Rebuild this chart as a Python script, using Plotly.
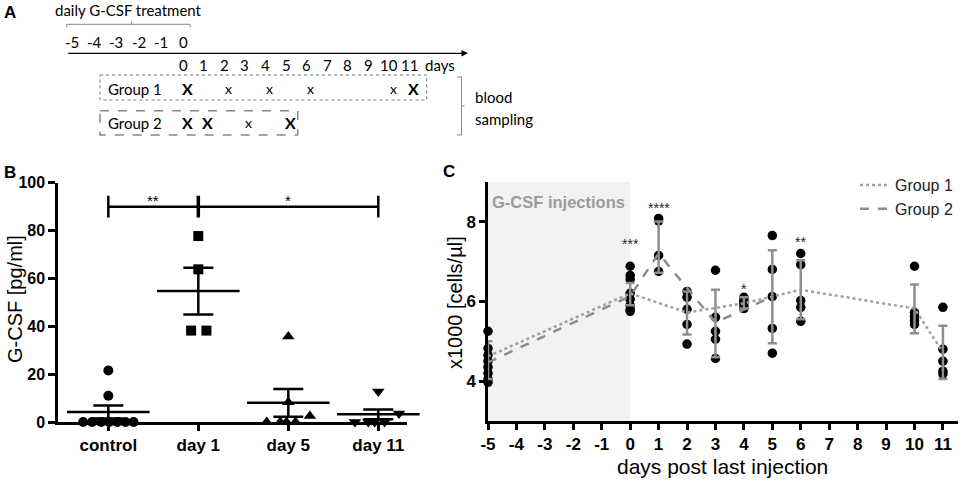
import plotly.graph_objects as go

# ---------------- panel A : study design timeline
a_pre_days = [-5, -4, -3, -2, -1, 0]
a_post_days = [0, 1, 2, 3, 4, 5, 6, 7, 8, 9, 10, 11]
a_group1_days = [0, 2, 4, 6, 10, 11]
a_group1_marks = ["X", "x", "x", "x", "x", "X"]
a_group2_days = [0, 1, 3, 5]
a_group2_marks = ["X", "X", "x", "X"]

# ---------------- panel B : serum G-CSF
b_groups = ["control", "day 1", "day 5", "day 11"]
b_values = [
    [21.5, 11.0, 0, 0, 0, 0, 0, 0, 0],
    [77.7, 63.8, 38.2, 38.2],
    [35.7, 8.3, 2.5, 0, 0, 0, 0],
    [12.7, 3.6, 0, 0, 0, 0],
]
b_spread = [
    [0.0, 0.0, -0.28, -0.18, -0.08, 0.01, 0.10, 0.19, 0.28],
    [0.0, 0.0, -0.08, 0.09],
    [0.0, 0.0, 0.24, -0.24, -0.09, -0.02, 0.08],
    [0.0, 0.23, -0.26, -0.11, -0.04, 0.07],
]
b_symbols = ["circle", "square", "triangle-up", "triangle-down"]
b_mean = [4.2, 54.7, 8.0, 3.2]
b_sem = [2.7, 9.8, 5.8, 2.0]
b_sig_from = [0, 1]
b_sig_to = [1, 3]
b_sig_text = ["**", "*"]
b_sig_level = 90

# ---------------- panel C : blood leukocytes
c_days = [-5, 0, 1, 2, 3, 4, 5, 6, 10, 11]
c_cells = [
    [5.25, 4.82, 4.65, 4.5, 4.35, 4.2, 4.05, 3.97],
    [6.88, 6.65, 6.55, 6.2, 6.05, 5.9, 5.8, 5.75],
    [8.08, 8.02, 7.15, 6.75],
    [6.25, 6.1, 5.8, 5.42, 4.93],
    [6.78, 5.6, 5.25, 5.05, 4.57],
    [6.1, 6.03, 5.97, 5.9, 5.82],
    [7.65, 6.8, 6.12, 5.32, 4.7],
    [7.2, 6.92, 6.02, 5.85, 5.5],
    [6.88, 5.72, 5.62, 5.52, 5.42],
    [5.85, 4.8, 4.5, 4.25, 4.18],
]
c_sd_hi = [5.0, 6.46, 8.0, 6.25, 6.29, 6.1, 7.28, 7.03, 6.42, 5.39]
c_sd_lo = [4.05, 5.9, 6.72, 5.17, 4.6, 5.82, 4.95, 5.55, 5.2, 4.05]
c_ticks = [-5, -4, -3, -2, -1, 0, 1, 2, 3, 4, 5, 6, 7, 8, 9, 10, 11]
g1_days = [-5, 0, 2, 4, 6, 10, 11]
g1_mean = [4.62, 6.2, 5.72, 5.95, 6.29, 5.82, 4.72]
g2_days = [-5, 0, 1, 3, 5]
g2_mean = [4.47, 6.13, 7.2, 5.47, 6.12]
c_star_days = [0, 1, 4, 6]
c_star_text = ["***", "****", "*", "**"]
c_star_level = [7.45, 8.35, 6.3, 7.5]

W, H = 962, 481
TICK_FONT = "Liberation Sans, Arial"
TEXT_FONT = "Liberation Sans, Arial"
A_FONT = "Lato, Open Sans"


def px(x):
    return x / W


def py(y):
    return 1 - y / H


def note(x, y, text, size, color="black", xanchor="center", angle=0, bold=False):
    return dict(x=px(x), y=py(y), xref="paper", yref="paper",
                text="<b>%s</b>" % text if bold else text, showarrow=False,
                xanchor=xanchor, yanchor="middle", textangle=angle,
                font=dict(family=TEXT_FONT, size=size, color=color))


fig = go.Figure()

# ---- panel B
for i, g in enumerate(b_groups):
    fig.add_trace(go.Scatter(
        x=[i + s for s in b_spread[i]], y=b_values[i], mode="markers",
        marker=dict(symbol=b_symbols[i], size=10 if i < 2 else 11, color="black"),
        xaxis="x", yaxis="y", showlegend=False, cliponaxis=False))

fig.add_trace(go.Scatter(
    x=list(range(len(b_groups))), y=b_mean, mode="markers",
    marker=dict(symbol="line-ew-open", size=59, color="black",
                line=dict(width=2.5, color="black")),
    error_y=dict(type="data", array=b_sem, color="black", thickness=2.5, width=15),
    xaxis="x", yaxis="y", showlegend=False, cliponaxis=False))

shapes = []
annotations = []
shapes.append(dict(type="line", xref="x", yref="y", x0=b_sig_from[0], x1=b_sig_to[-1],
                   y0=b_sig_level, y1=b_sig_level, line=dict(color="black", width=2.5)))
for xv in sorted(set(b_sig_from + b_sig_to)):
    shapes.append(dict(type="line", xref="x", yref="y", x0=xv, x1=xv,
                       y0=b_sig_level - 4.5, y1=b_sig_level + 4.5,
                       line=dict(color="black", width=2.5 if xv != 1 else 3.5)))
for a, b, t in zip(b_sig_from, b_sig_to, b_sig_text):
    annotations.append(dict(x=(a + b) / 2, y=b_sig_level + 2.5, xref="x", yref="y", text=t,
                            showarrow=False, xanchor="center", yanchor="middle",
                            font=dict(family=TEXT_FONT, size=15, color="black")))

# ---- panel C
shapes.append(dict(type="rect", xref="x2", yref="y2", x0=-5, x1=0, y0=3, y1=9,
                   fillcolor="#f2f2f2", line=dict(width=0), layer="below"))

for d, vals in zip(c_days, c_cells):
    fig.add_trace(go.Scatter(
        x=[d] * len(vals), y=vals, mode="markers",
        marker=dict(symbol="circle", size=9.5, color="black"),
        xaxis="x2", yaxis="y2", showlegend=False, cliponaxis=False))

fig.add_trace(go.Scatter(
    x=g1_days, y=g1_mean, mode="lines", name="Group 1",
    line=dict(color="#a0a0a0", width=2.5, dash="dot"),
    xaxis="x2", yaxis="y2"))
fig.add_trace(go.Scatter(
    x=g2_days, y=g2_mean, mode="lines", name="Group 2",
    line=dict(color="#8c8c8c", width=2.5, dash="dash"),
    xaxis="x2", yaxis="y2"))

mid = [(h + l) / 2 for h, l in zip(c_sd_hi, c_sd_lo)]
fig.add_trace(go.Scatter(
    x=c_days, y=mid, mode="markers", marker=dict(size=0.1, color="rgba(0,0,0,0)"),
    error_y=dict(type="data", symmetric=False,
                 array=[h - m for h, m in zip(c_sd_hi, mid)],
                 arrayminus=[m - l for l, m in zip(c_sd_lo, mid)],
                 color="#8f8f8f", thickness=2.5, width=4.5),
    xaxis="x2", yaxis="y2", showlegend=False, hoverinfo="skip"))

for d, t, lv in zip(c_star_days, c_star_text, c_star_level):
    annotations.append(dict(x=d, y=lv, xref="x2", yref="y2", text=t, showarrow=False,
                            xanchor="center", yanchor="middle",
                            font=dict(family=TEXT_FONT, size=14, color="#222")))

annotations.append(note(490, 201.7, "G-CSF injections", 16.5, color="#9b9b9b",
                        xanchor="left", bold=True))

# ---- panel A (pixel-like axis)
def x_post(d):
    return 183 + 20.6 * d


def x_pre(d):
    return 183 + 22.2 * d


a_font = dict(family=A_FONT, size=15, color="black")


def a_note(x, y, text, xanchor="center", font=a_font):
    return dict(x=x, y=y, xref="x3", yref="y3", text=text, showarrow=False,
                xanchor=xanchor, yanchor="middle", font=font)


annotations.append(a_note(53, 10, "daily G-CSF treatment", xanchor="left"))
for d in a_pre_days:
    annotations.append(a_note(x_pre(d), 41.7, str(d)))
for d in a_post_days:
    annotations.append(a_note(x_post(d), 65, str(d)))
annotations.append(a_note(x_post(11) + 13, 65, "days", xanchor="left"))
annotations.append(dict(x=468, y=53.3, ax=66.7, ay=53.3, xref="x3", yref="y3",
                        axref="x3", ayref="y3", text="", showarrow=True,
                        arrowhead=2, arrowsize=1, arrowwidth=1.3, arrowcolor="black"))
for label, yy, days, marks in [("Group 1", 88.5, a_group1_days, a_group1_marks),
                               ("Group 2", 122.7, a_group2_days, a_group2_marks)]:
    annotations.append(a_note(106, yy, label, xanchor="left"))
    for d, m in zip(days, marks):
        annotations.append(a_note(x_post(d) + 4, yy, "<b>X</b>" if m == "X" else "x",
                                  font=dict(family=A_FONT, size=16 if m == "X" else 14,
                                            color="black")))
annotations.append(a_note(473, 97, "blood", xanchor="left"))
annotations.append(a_note(473, 119, "sampling", xanchor="left"))

shapes += [
    dict(type="path", xref="x3", yref="y3", path="M66.7,27.5 L66.7,24.3 L190,24.3 L190,27.5",
         line=dict(color="#888", width=1)),
    dict(type="line", xref="x3", yref="y3", x0=131.7, x1=131.7, y0=24.3, y1=21.3,
         line=dict(color="#888", width=1)),
    dict(type="rect", xref="x3", yref="y3", x0=100, x1=426.7, y0=75, y1=100,
         line=dict(color="#777", width=1, dash="dot")),
    dict(type="rect", xref="x3", yref="y3", x0=100, x1=297.7, y0=110.7, y1=135,
         line=dict(color="#888", width=1.5, dash="dash")),
    dict(type="path", xref="x3", yref="y3", path="M457,77 L461.5,77 L461.5,135 L457,135",
         line=dict(color="#888", width=1)),
    dict(type="line", xref="x3", yref="y3", x0=461.5, x1=464.5, y0=106, y1=106,
         line=dict(color="#888", width=1)),
]

# ---- titles and panel letters
for t, xx, yy in [("A", 10, 12), ("B", 10, 172.5), ("C", 449, 171)]:
    annotations.append(note(xx, yy, t, 17, bold=True))
annotations.append(note(15, 299, "G-CSF [pg/ml]", 20, angle=-90))
annotations.append(note(455, 303, "x1000 [cells/µl]", 20, angle=-90))
annotations.append(note(722, 466, "days post last injection", 21))

axis_common = dict(showgrid=False, zeroline=False, showline=True, linecolor="black",
                   ticks="outside", tickcolor="black", fixedrange=True, automargin=False)

fig.update_layout(
    width=W, height=H, margin=dict(l=0, r=0, t=0, b=0, autoexpand=False),
    plot_bgcolor="white", paper_bgcolor="white",
    xaxis=dict(domain=[px(58.3), px(407)], range=[-0.556, 3.319], linewidth=3,
               tickwidth=3, ticklen=6, tickvals=list(range(len(b_groups))),
               ticktext=b_groups, anchor="y",
               tickfont=dict(family=TICK_FONT, size=17, color="black", weight="bold"),
               **axis_common),
    yaxis=dict(domain=[py(422), py(182.7)], range=[0, 100], linewidth=3, tickwidth=3,
               ticklen=7, dtick=20, anchor="x",
               tickfont=dict(family=TICK_FONT, size=16, color="black", weight="bold"),
               **axis_common),
    xaxis2=dict(domain=[px(488), px(958)], range=[-5, 11.53], linewidth=2.5, tickwidth=2.5,
                ticklen=6, tickvals=c_ticks, ticktext=[str(t) for t in c_ticks],
                anchor="y2",
                tickfont=dict(family=TICK_FONT, size=17, color="black", weight="bold"),
                **axis_common),
    yaxis2=dict(domain=[py(421), py(181.7)], range=[3, 9], linewidth=2.5, tickwidth=2.5,
                ticklen=6, tickvals=[4, 6, 8], anchor="x2",
                tickfont=dict(family=TICK_FONT, size=17, color="black", weight="bold"),
                **axis_common),
    xaxis3=dict(domain=[0, 1], range=[0, W], visible=False, anchor="y3",
                fixedrange=True, automargin=False),
    yaxis3=dict(domain=[py(160), 1], range=[160, 0], visible=False, anchor="x3",
                fixedrange=True, automargin=False),
    legend=dict(x=px(958), xanchor="right", y=py(168), yanchor="top",
                font=dict(family=TEXT_FONT, size=16, color="#222"),
                bgcolor="rgba(0,0,0,0)", itemwidth=30, tracegroupgap=0),
    shapes=shapes, annotations=annotations,
)

# the page body has a default 8px margin; drop it so the figure fills the window
fig.write_html("out.html", config={"displayModeBar": False},
               post_script="document.body.style.margin = '0';")
